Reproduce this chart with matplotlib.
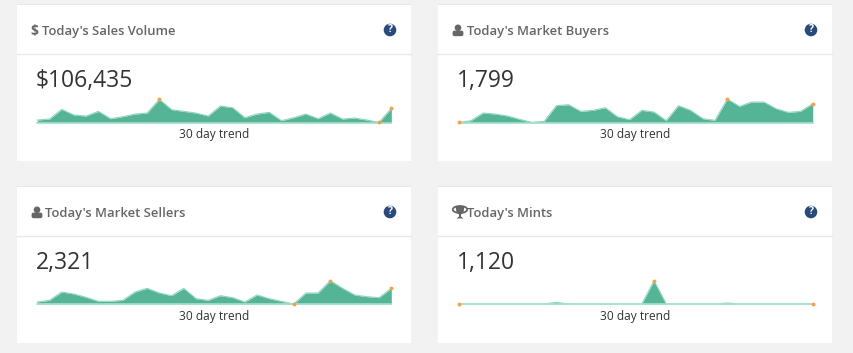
import matplotlib
matplotlib.use("Agg")
import matplotlib.pyplot as plt
from matplotlib.patches import Rectangle, Circle, Ellipse, Polygon, FancyBboxPatch

W, H = 854, 353

titles = ["Today's Sales Volume", "Today's Market Buyers", "Today's Market Sellers", "Today's Mints"]
totals = ["$106,435", "1,799", "2,321", "1,120"]
trend_label = "30 day trend"

sales = [8, 11, 40, 23, 20, 34, 12, 18, 26, 29, 70, 39, 34, 29, 20, 50, 45, 15, 26, 31, 6, 15, 26, 12, 29, 11, 14, 8, 1, 43]
buyers = [1, 6, 29, 26, 20, 10, 1, 4, 51, 54, 34, 37, 45, 18, 9, 37, 32, 6, 51, 37, 12, 7, 71, 49, 62, 62, 42, 31, 34, 57]
sellers = [6, 11, 36, 30, 20, 8, 8, 11, 36, 47, 33, 25, 47, 16, 11, 25, 19, 6, 27, 16, 8, 0, 33, 33, 70, 47, 27, 22, 19, 47]
mints = [0, 0, 0, 0, 0, 0, 0, 0, 5, 0, 0, 0, 0, 0, 0, 0, 70, 0, 0, 0, 0, 0, 3, 0, 0, 0, 0, 0, 0, 0]
spots = [[10, 28, 29], [0, 22, 29], [21, 24, 29], [0, 16, 29]]

cards = [(17, 4), (438, 4), (17, 186), (438, 186)]
card_w, card_h = 394, 157

plt.rcParams['font.family'] = ['Open Sans', 'DejaVu Sans']

fig = plt.figure(figsize=(W / 100, H / 100), dpi=100, facecolor='#f2f2f2')
bg = fig.add_axes([0, 0, 1, 1])
bg.set_xlim(0, W)
bg.set_ylim(H, 0)
bg.axis('off')


def person(x, y):
    bg.add_patch(Circle((x, y - 3.2), 3.3, fc='#666666', ec='none'))
    bg.add_patch(FancyBboxPatch((x - 4.2, y + 0.8), 8.4, 3.2, boxstyle='round,pad=1.2,rounding_size=2', fc='#666666', ec='none'))


def trophy(x, y):
    bg.add_patch(Ellipse((x, y - 3), 14.5, 7, fc='none', ec='#666666', lw=1.3))
    bg.add_patch(Polygon([(x - 4.5, y - 6.5), (x + 4.5, y - 6.5), (x + 3.5, y), (x + 1, y + 2), (x + 1, y + 4),
                          (x + 3.5, y + 6), (x - 3.5, y + 6), (x - 1, y + 4), (x - 1, y + 2), (x - 3.5, y)],
                         fc='#666666', ec='none'))


for i, (cx, cy) in enumerate(cards):
    bg.add_patch(Rectangle((cx, cy), card_w, card_h, fc='white', ec='none'))
    bg.add_patch(Rectangle((cx, cy), card_w, 1.2, fc='#e6e8ea', ec='none'))
    bg.plot([cx, cx + card_w], [cy + 50, cy + 50], color='#e8e8e8', lw=1)
    title_y = cy + 27
    if i == 0:
        bg.text(cx + 13, title_y, "$", fontsize=10, fontweight='bold', color='#666666', va='center')
        title_x = cx + 25
    else:
        if i == 3:
            trophy(cx + 22, title_y - 0.5)
        else:
            person(cx + 20, title_y)
        title_x = cx + 29
    if i == 2:
        title_x = cx + 28
    bg.text(title_x, title_y, titles[i], fontsize=9.4, fontweight='semibold', color='#666666', va='center')
    bg.add_patch(Circle((cx + 373, cy + 26), 6.3, fc='#2a4a7c', ec='none'))
    bg.text(cx + 373, cy + 25.8, "?", fontsize=7.5, fontweight='bold', color='white', ha='center', va='center')
    bg.text(cx + 19, cy + 77.5, totals[i], fontsize=16.5, color='#333333', va='center')
    bg.text(cx + 197, cy + 130.5, trend_label, fontsize=8.6, color='#333333', ha='center', va='center')

series = [sales, buyers, sellers, mints]
bases = [122.7, 122.7, 304, 304]
lefts = [37.3, 458.7, 37.3, 458.7]
span = 354

for i, vals in enumerate(series):
    # 3 units of value per pixel, so the panel is 30 px high
    ax = fig.add_axes([lefts[i] / W, 1 - bases[i] / H, span / W, 30 / H])
    ax.set_xlim(0, 29)
    ax.set_ylim(0, 90)
    ax.axis('off')
    days = list(range(30))
    ax.fill_between(days, vals, 0, color='#55b396', lw=0, clip_on=False)
    ax.plot(days, vals, color='#8fd6bf', lw=0.8, clip_on=False)
    ax.plot([0, 29], [0, 0], color='#a8e0cd', lw=1.2, clip_on=False)
    ax.plot(spots[i], [vals[k] for k in spots[i]], 'o', color='#f5a04a', ms=2.8, mew=0, clip_on=False)

fig.savefig('out.png', dpi=100, facecolor=fig.get_facecolor())
